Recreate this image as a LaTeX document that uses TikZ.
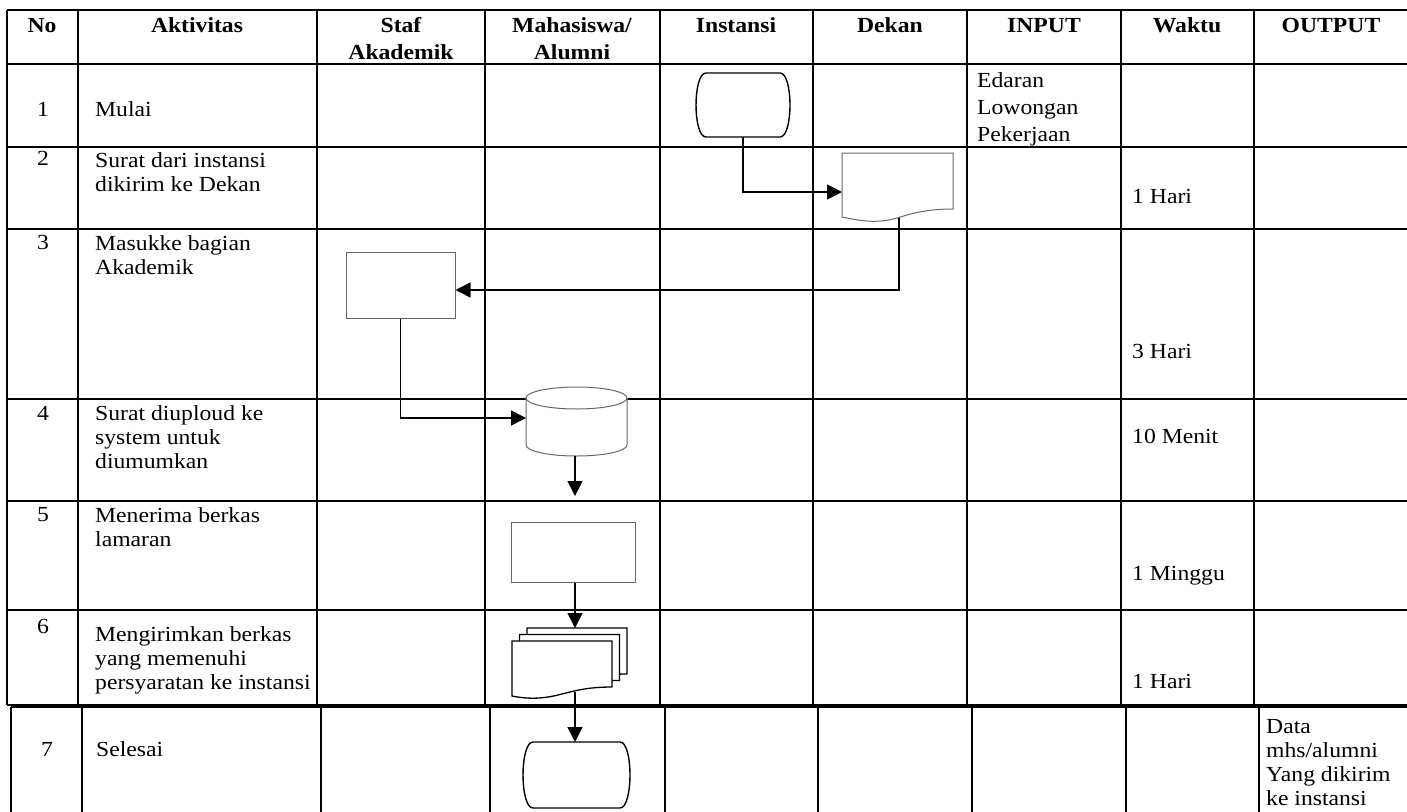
\documentclass[tikz,border=0pt]{standalone}
\usepackage{fontspec}
\setmainfont{Liberation Serif}[FakeStretch=1.1]
\usetikzlibrary{arrows.meta}
\begin{document}
\begin{tikzpicture}[x=1pt,y=-1pt,
  grid/.style={line width=1.8pt,black},
  shp/.style={draw=black!60,line width=1pt,fill=white},
  term/.style={draw=black,line width=1.4pt,fill=white},
  box/.style={draw=black!60,line width=1pt,fill=white,inner sep=0pt},
  arr/.style={draw=black,line width=1.5pt,-{Triangle[length=15pt,width=15pt]}},
  hd/.style={anchor=north,inner sep=0pt,align=center,font=\bfseries\fontsize{21.5}{27}\selectfont},
  num/.style={anchor=north,inner sep=0pt,font=\fontsize{21.5}{24}\selectfont},
  txt/.style={anchor=north west,inner sep=0pt,align=left,font=\fontsize{21.5}{24}\selectfont},
  txtw/.style={anchor=north west,inner sep=0pt,align=left,font=\fontsize{21.5}{27}\selectfont}
]
\useasboundingbox (0,0) rectangle (1407,811);
\fill[white] (0,0) rectangle (1407,811);
% table rows header..6
\foreach \y in {10,64,147,229,399,501,610,705} \draw[grid] (7,\y) -- (1412,\y);
\foreach \x in {7,78,317,485,660,813,967,1121,1254} \draw[grid] (\x,10) -- (\x,705);
% row 7 (shifted)
\draw[grid] (11,707) -- (1412,707);
\foreach \x in {11,82,321,490,665,818,972,1126,1259} \draw[grid] (\x,707) -- (\x,815);

% header
\node[hd] (hNo) at (42,13.1) {\strut No};
\node[hd] (hAkt) at (197,13.1) {\strut Aktivitas};
\node[hd] (hStaf) at (401,13.1) {\strut Staf\\Akademik};
\node[hd] (hMhs) at (572,13.1) {\strut Mahasiswa/\\Alumni};
\node[hd] (hIns) at (736,13.1) {\strut Instansi};
\node[hd] (hDek) at (890,13.1) {\strut Dekan};
\node[hd] (hIn) at (1044,13.1) {\strut INPUT};
\node[hd] (hWak) at (1187,13.1) {\strut Waktu};
\node[hd] (hOut) at (1331,13.1) {\strut OUTPUT};

% numbers
\node[num] (n1) at (43,116-16.8) {\strut 1};
\node[num] (n2) at (43,165-16.8) {\strut 2};
\node[num] (n3) at (43,249-16.8) {\strut 3};
\node[num] (n4) at (43,420-16.8) {\strut 4};
\node[num] (n5) at (43,521-16.8) {\strut 5};
\node[num] (n6) at (43,633-16.8) {\strut 6};
\node[num] (n7) at (47,756-16.8) {\strut 7};

% activities
\node[txt] (a1) at (95,116-16.8) {\strut Mulai};
\node[txt] (a2) at (95,167-16.8) {\strut Surat dari instansi\\dikirim ke Dekan};
\node[txt] (a3) at (95,250-16.8) {\strut Masukke bagian\\Akademik};
\node[txt] (a4) at (95,420-16.8) {\strut Surat diuploud ke\\system untuk\\diumumkan};
\node[txt] (a5) at (95,522-16.8) {\strut Menerima berkas\\lamaran};
\node[txt] (a6) at (95,641-16.8) {\strut Mengirimkan berkas\\yang memenuhi\\persyaratan ke instansi};
\node[txt] (a7) at (96,756-16.8) {\strut Selesai};

% input / waktu / output
\node[txtw] (in1) at (977,87-18.9) {\strut Edaran\\Lowongan\\Pekerjaan};
\node[txt] (w2) at (1132,203-16.8) {\strut 1 Hari};
\node[txt] (w3) at (1132,358-16.8) {\strut 3 Hari};
\node[txt] (w4) at (1132,443-16.8) {\strut 10 Menit};
\node[txt] (w5) at (1132,580-16.8) {\strut 1 Minggu};
\node[txt] (w6) at (1132,688-16.8) {\strut 1 Hari};
\node[txt] (o7) at (1266,733-16.8) {\strut Data\\mhs/alumni\\Yang dikirim\\ke instansi};

% shapes
% start terminator (Instansi)
\draw[term] (706,73) -- (780,73) .. controls (793.3,73) and (793.3,137) .. (780,137)
  -- (706,137) .. controls (692.7,137) and (692.7,73) .. (706,73);
\coordinate (startB) at (743,137);
% document (Dekan)
\draw[shp] (842,153) -- (953,153) -- (953,209) .. controls (925,209) and (910,214) .. (897,218)
  .. controls (880,223) and (865,222) .. (842,217) -- cycle;
\coordinate (docL) at (842,192);
\coordinate (docB) at (899,217.5);
% process box (Staf)
\node[box,minimum width=109pt,minimum height=66pt] (boxA) at (400.5,285) {};
\path (boxA.east) ++(0,5) coordinate (boxAin);
% cylinder (Mahasiswa)
\draw[shp] (526,398) -- (526,445) .. controls (526,451.1) and (548.6,456) .. (576.5,456)
  .. controls (604.4,456) and (627,451.1) .. (627,445) -- (627,398);
\draw[shp] (576.5,398) ellipse [x radius=50.5, y radius=11];
\coordinate (cylL) at (526,418);
\coordinate (cylB) at (575,456);
\coordinate (cylEnd) at (575,496);
% process box (Mahasiswa)
\node[box,minimum width=124pt,minimum height=60pt] (boxB) at (573,552) {};
% multi-document
\foreach \dx/\dy in {15/-13,7.5/-6.5,0/0}{
  \draw[term,line width=1.3pt] (512+\dx,641+\dy) -- (612+\dx,641+\dy) -- (612+\dx,687+\dy)
   .. controls (587+\dx,687+\dy) and (574+\dx,691+\dy) .. (562+\dx,694+\dy)
   .. controls (547+\dx,698+\dy) and (532+\dx,700+\dy) .. (512+\dx,696+\dy) -- cycle;
}
\coordinate (mdT) at (575,628);
\coordinate (mdB) at (575,692);
% end terminator
\draw[term] (533,742) -- (620,742) .. controls (633.3,742) and (633.3,808) .. (620,808)
  -- (533,808) .. controls (519.7,808) and (519.7,742) .. (533,742);
\coordinate (endT) at (575,742);

% connectors
\draw[arr] (startB) |- (docL);
\draw[arr] (docB) |- (boxAin);
\draw[arr] (boxA.south) |- (cylL);
\draw[arr] (cylB) -- (cylEnd);
\draw[arr] (boxB.south -| mdT) -- (mdT);
\draw[arr] (mdB) -- (endT);
\end{tikzpicture}
\end{document}
